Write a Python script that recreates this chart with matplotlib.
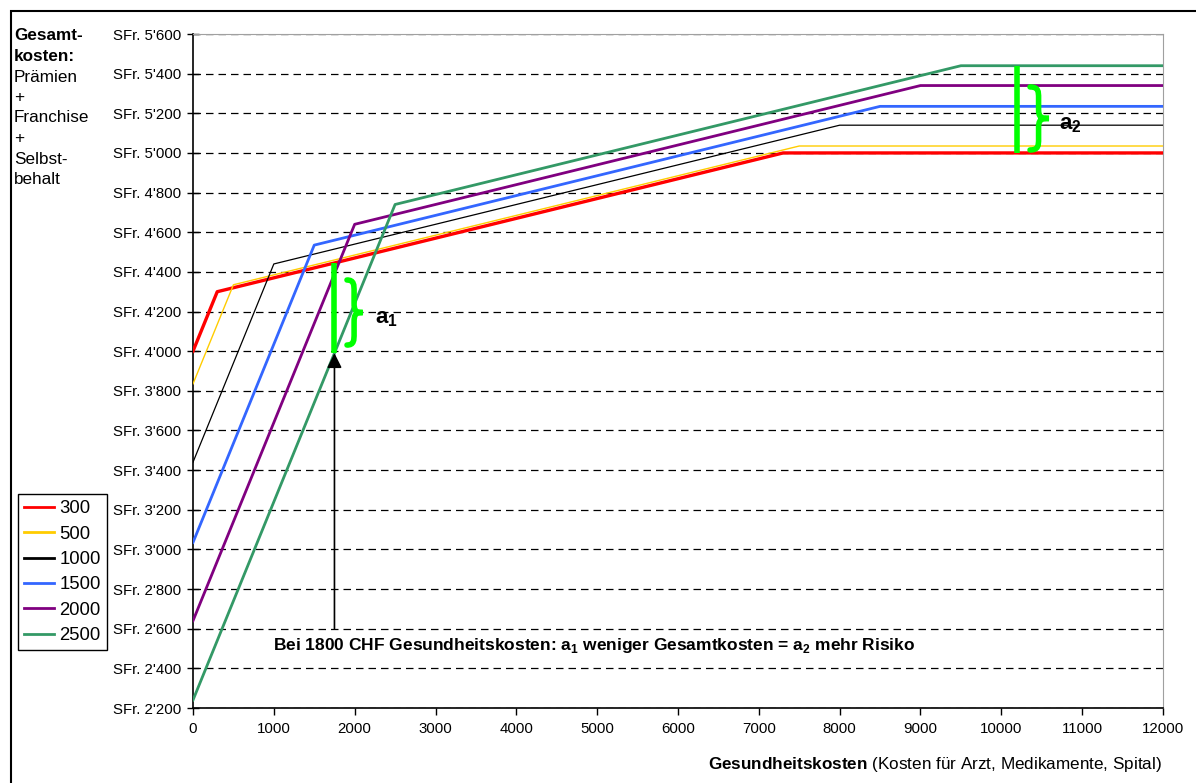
import matplotlib.pyplot as plt
from matplotlib.patches import Rectangle, PathPatch
from matplotlib.path import Path
from matplotlib.ticker import FuncFormatter

plt.rcParams["font.family"] = ["Liberation Sans", "DejaVu Sans"]
plt.rcParams["mathtext.fontset"] = "custom"
plt.rcParams["mathtext.rm"] = "Liberation Sans"
plt.rcParams["mathtext.bf"] = "Liberation Sans:bold"

# breakpoints of each curve (Gesundheitskosten -> Gesamtkosten)
labels = ["300", "500", "1000", "1500", "2000", "2500"]
xs = [
    [0, 300, 7300, 12000],
    [0, 500, 7500, 12000],
    [0, 1000, 8000, 12000],
    [0, 1500, 8500, 12000],
    [0, 2000, 9000, 12000],
    [0, 2500, 9500, 12000],
]
ys = [
    [4000, 4300, 5000, 5000],
    [3835, 4335, 5035, 5035],
    [3440, 4440, 5140, 5140],
    [3035, 4535, 5235, 5235],
    [2640, 4640, 5340, 5340],
    [2240, 4740, 5440, 5440],
]
colors = ["#ff0000", "#ffcc00", "#000000", "#3366ff", "#800080", "#339966"]
widths = [2.4, 1.0, 0.9, 2.0, 2.0, 2.0]

# annotation values
a1_x, a1_lo, a1_hi = 1750, 3990, 4445
a2_x, a2_lo, a2_hi = 10200, 5000, 5440
arrow_from = 2600
brace1 = (1905, 2100, 4031, 4359)   # left, tip, bottom, top
brace2 = (10355, 10590, 5015, 5333)


def brace_path(left, tip, lo, hi):
    # right-pointing curly brace "}"
    w = tip - left
    m = left + w * 0.45
    c = (lo + hi) / 2
    h = (hi - lo) / 2
    verts = [
        (left, hi), (m, hi), (m, hi - h * 0.15), (m, hi - h * 0.35),
        (m, c + h * 0.3), (m, c + h * 0.05), (m + w * 0.1, c), (tip, c),
        (m + w * 0.1, c), (m, c - h * 0.05), (m, c - h * 0.3),
        (m, lo + h * 0.35), (m, lo + h * 0.15), (m, lo), (left, lo),
    ]
    codes = [Path.MOVETO, Path.CURVE4, Path.CURVE4, Path.CURVE4,
             Path.LINETO, Path.CURVE4, Path.CURVE4, Path.CURVE4,
             Path.CURVE4, Path.CURVE4, Path.CURVE4,
             Path.LINETO, Path.CURVE4, Path.CURVE4, Path.CURVE4]
    return Path(verts, codes)


fig = plt.figure(figsize=(11.96, 7.83), dpi=100)
ax = fig.add_axes([193 / 1196, 1 - 708 / 783, (1163 - 193) / 1196, (708 - 34) / 783])

for x, y, c, w, lab in zip(xs, ys, colors, widths, labels):
    ax.plot(x, y, color=c, lw=w, label=lab, zorder=3)

ax.set_xlim(0, 12000)
ax.set_ylim(2200, 5600)
ax.set_xticks(range(0, 12001, 1000))
ax.set_yticks(range(2200, 5601, 200))
ax.yaxis.set_major_formatter(FuncFormatter(lambda v, p: "SFr. {:,}".format(int(v)).replace(",", "'")))
ax.tick_params(axis="y", direction="inout", length=9, width=1, labelsize=10.8, pad=4)
ax.tick_params(axis="x", direction="out", length=5, width=1, labelsize=10.8, pad=5)
ax.yaxis.grid(True, linestyle=(0, (6, 4)), color="black", lw=0.9, zorder=1)
ax.set_axisbelow(True)
for side in ["top", "right"]:
    ax.spines[side].set_color("#a0a0a0")
for side in ["left", "bottom"]:
    ax.spines[side].set_linewidth(1.2)

# a1 / a2 markers
ax.plot([a1_x, a1_x], [a1_lo, a1_hi], color="#00ff00", lw=4, solid_capstyle="butt", zorder=4)
ax.plot([a2_x, a2_x], [a2_lo, a2_hi], color="#00ff00", lw=4, solid_capstyle="butt", zorder=4)
for b in (brace1, brace2):
    ax.add_patch(PathPatch(brace_path(*b), fill=False, edgecolor="#00ff00", lw=4,
                           capstyle="round", zorder=4))
ax.text(2388, 4167, r"$\mathbf{a}_\mathbf{1}$", fontsize=16, ha="center", va="center")
ax.text(10850, 5141, r"$\mathbf{a}_\mathbf{2}$", fontsize=16, ha="center", va="center")

ax.annotate("", xy=(a1_x, a1_lo), xytext=(a1_x, arrow_from),
            arrowprops=dict(arrowstyle="-|>", color="black", lw=1.2, mutation_scale=22,
                            shrinkA=0, shrinkB=0), zorder=5)
ax.text(990, 2513,
        r"Bei 1800 CHF Gesundheitskosten: $\mathbf{a}_\mathbf{1}$ weniger Gesamtkosten = $\mathbf{a}_\mathbf{2}$ mehr Risiko",
        fontsize=12.5, fontweight="bold", ha="left", va="center",
        bbox=dict(facecolor="white", edgecolor="none", pad=1))

# axis label bottom right
fig.text(1162 / 1196, 1 - 765 / 783,
         r"$\mathbf{Gesundheitskosten}$ (Kosten für Arzt, Medikamente, Spital)",
         fontsize=12.3, ha="right", va="center")

# left title block
left_lines = [("Gesamt-", "bold"), ("kosten:", "bold"), ("Prämien", "normal"), ("+", "normal"),
              ("Franchise", "normal"), ("+", "normal"), ("Selbst-", "normal"), ("behalt", "normal")]
for i, (t, wgt) in enumerate(left_lines):
    fig.text(14 / 1196, 1 - (36 + i * 20.5) / 783, t, fontsize=12.3, fontweight=wgt,
             ha="left", va="center")

leg = ax.legend(loc="upper left", bbox_to_anchor=(18 / 1196, 1 - 494 / 783),
                bbox_transform=fig.transFigure, fontsize=13.3, frameon=True, fancybox=False,
                edgecolor="black", framealpha=1, handlelength=1.6, handletextpad=0.3,
                labelspacing=0.45, borderpad=0.35, borderaxespad=0)
leg.get_frame().set_linewidth(1.0)
for h in leg.legend_handles:
    h.set_linewidth(2)

# outer frame
fig.patches.append(Rectangle((11 / 1196, -0.1), 1.2, 1.1 - 11 / 783, transform=fig.transFigure,
                             fill=False, edgecolor="black", lw=1.5))

fig.savefig("out.png", dpi=100)
